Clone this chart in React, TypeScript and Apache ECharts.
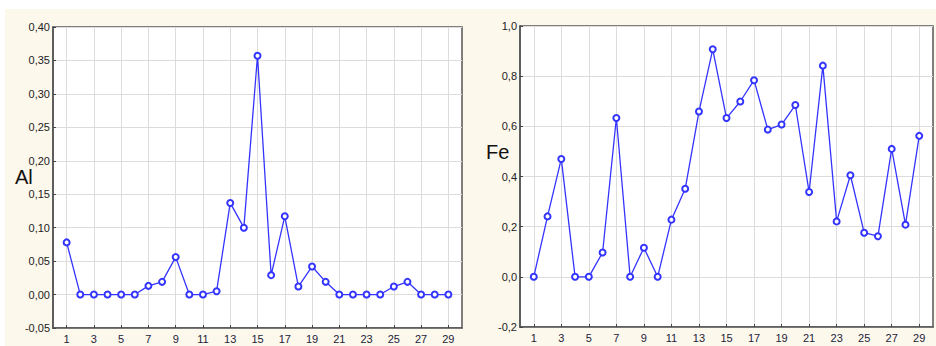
import React, { useEffect, useRef } from "react";
import * as echarts from "echarts";

// Sample numbers (x axis)
const samples = [1, 2, 3, 4, 5, 6, 7, 8, 9, 10, 11, 12, 13, 14, 15, 16, 17, 18, 19, 20, 21, 22, 23, 24, 25, 26, 27, 28, 29];

// Al content per sample
const alValues = [0.078, 0, 0, 0, 0, 0, 0.013, 0.019, 0.056, 0, 0, 0.005, 0.137, 0.1, 0.357, 0.029, 0.117, 0.012, 0.042, 0.019, 0, 0, 0, 0, 0.012, 0.019, 0, 0, 0];

// Fe content per sample
const feValues = [0, 0.241, 0.47, 0, 0, 0.097, 0.633, 0, 0.116, 0, 0.228, 0.351, 0.659, 0.907, 0.633, 0.699, 0.784, 0.587, 0.607, 0.685, 0.338, 0.842, 0.221, 0.405, 0.176, 0.162, 0.51, 0.208, 0.562];

// Axis ranges
const alAxis = [-0.05, 0.4, 0.05];
const feAxis = [-0.2, 1.0, 0.2];

const titles = ["Al", "Fe"];

const LINE = "#3434ff";
const FONT = "Liberation Sans, Arial, sans-serif";

export default function App() {
  const ref = useRef<HTMLDivElement>(null);

  useEffect(() => {
    document.body.style.margin = "0";
    const chart = echarts.init(ref.current!, null, { renderer: "svg" });

    const cats = ["", ...samples.map(String), ""];
    const odd = (idx: number) => idx % 2 === 1;
    const fmt = (digits: number) => (v: number) => {
      const x = Math.abs(v) < 1e-9 ? 0 : v;
      return x.toFixed(digits).replace(".", ",");
    };

    const mkX = (gi: number) => ({
      gridIndex: gi,
      type: "category",
      data: cats,
      boundaryGap: false,
      axisLine: { show: true, onZero: false, lineStyle: { color: "#555", width: 1.5 } },
      axisTick: { show: true, inside: true, length: 3, interval: odd, lineStyle: { color: "#444" } },
      axisLabel: { interval: odd, color: "#22223a", fontSize: 11, margin: 5, fontFamily: FONT },
      splitLine: { show: true, interval: odd, lineStyle: { color: "#dcdcdc", width: 1 } },
    });

    const mkY = (gi: number, r: number[], digits: number) => ({
      gridIndex: gi,
      type: "value",
      min: r[0],
      max: r[1],
      interval: r[2],
      axisLine: { show: true, lineStyle: { color: "#555", width: 1.5 } },
      axisTick: { show: true, inside: true, length: 3, lineStyle: { color: "#444" } },
      axisLabel: { color: "#222", fontSize: 11, margin: 3, fontFamily: FONT, formatter: fmt(digits) },
      splitLine: { show: true, lineStyle: { color: "#dcdcdc", width: 1 } },
    });

    const mkSeries = (gi: number, vals: number[]) => ({
      type: "line",
      xAxisIndex: gi,
      yAxisIndex: gi,
      data: samples.map((s, i) => [String(s), vals[i]]),
      symbol: "emptyCircle",
      symbolSize: 6,
      lineStyle: { color: LINE, width: 1.3 },
      itemStyle: { color: LINE, borderColor: LINE, borderWidth: 1.2 },
    });

    chart.setOption({
      animation: false,
      backgroundColor: "#ffffff",
      graphic: [
        { type: "rect", z: -10, shape: { x: 5, y: 9, width: 931, height: 337 }, style: { fill: "#fdf8ec" } },
        { type: "text", x: 15, y: 177, style: { text: titles[0], fontSize: 20, fontFamily: FONT, fill: "#111", verticalAlign: "middle" } },
        { type: "text", x: 486, y: 152, style: { text: titles[1], fontSize: 20, fontFamily: FONT, fill: "#111", verticalAlign: "middle" } },
      ],
      grid: [
        { left: 53, top: 27, width: 409, height: 301, show: true, backgroundColor: "#ffffff", borderColor: "#555", borderWidth: 1.5 },
        { left: 520, top: 26, width: 413, height: 301, show: true, backgroundColor: "#ffffff", borderColor: "#555", borderWidth: 1.5 },
      ],
      xAxis: [mkX(0), mkX(1)],
      yAxis: [mkY(0, alAxis, 2), mkY(1, feAxis, 1)],
      series: [mkSeries(0, alValues), mkSeries(1, feValues)],
    });

    return () => chart.dispose();
  }, []);

  return <div ref={ref} style={{ width: 936, height: 346 }} />;
}
